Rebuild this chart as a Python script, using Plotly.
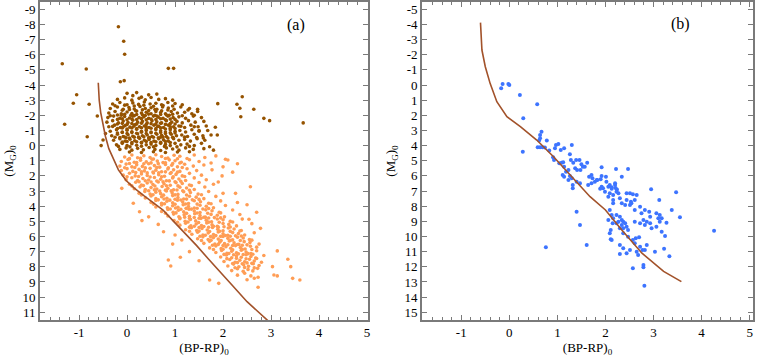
import plotly.graph_objects as go

# ---------------- data: panel (a) ----------------
# bright (giant) members, (BP-RP)_0 , M_G,0
brown_points = [
    (0.0,-3.45),(0.12,-3.3),(0.2,-3.5),(0.45,-3.35),(0.62,-3.4),(0.3,-3.2),
    (-0.2,-3.05),(-0.05,-3.15),(0.1,-3.0),(0.25,-3.12),(0.38,-3.02),(0.5,-3.18),(0.66,-3.05),(0.8,-3.1),(0.95,-3.0),
    (-0.3,-2.75),(-0.15,-2.85),(0.0,-2.7),(0.12,-2.82),(0.24,-2.72),(0.36,-2.88),(0.48,-2.75),(0.6,-2.8),(0.72,-2.7),(0.85,-2.85),(1.0,-2.78),(1.15,-2.7),
    (-0.35,-2.45),(-0.2,-2.55),(-0.08,-2.4),(0.04,-2.52),(0.15,-2.42),(0.27,-2.58),(0.38,-2.45),(0.5,-2.5),(0.62,-2.4),(0.74,-2.55),(0.86,-2.48),(0.98,-2.4),(1.12,-2.55),(1.3,-2.45),
    (-0.38,-2.15),(-0.25,-2.25),(-0.12,-2.1),(0.0,-2.22),(0.1,-2.12),(0.2,-2.28),(0.3,-2.15),(0.4,-2.2),(0.5,-2.1),(0.6,-2.25),(0.7,-2.18),(0.8,-2.1),(0.92,-2.25),(1.05,-2.15),(1.2,-2.2),(1.35,-2.1),(1.47,-2.25),
    (-0.4,-1.85),(-0.28,-1.95),(-0.15,-1.8),(-0.05,-1.92),(0.05,-1.82),(0.15,-1.98),(0.25,-1.85),(0.35,-1.9),(0.45,-1.8),(0.55,-1.95),(0.65,-1.88),(0.75,-1.8),(0.85,-1.95),(0.96,-1.85),(1.08,-1.9),(1.22,-1.8),(1.38,-1.95),(1.55,-1.85),
    (-0.42,-1.55),(-0.3,-1.65),(-0.18,-1.5),(-0.08,-1.62),(0.02,-1.52),(0.12,-1.68),(0.22,-1.55),(0.32,-1.6),(0.42,-1.5),(0.52,-1.65),(0.62,-1.58),(0.72,-1.5),(0.82,-1.65),(0.93,-1.55),(1.04,-1.6),(1.15,-1.5),(1.28,-1.65),(1.42,-1.55),(1.6,-1.6),
    (-0.38,-1.25),(-0.26,-1.35),(-0.14,-1.2),(-0.04,-1.32),(0.06,-1.22),(0.16,-1.38),(0.26,-1.25),(0.36,-1.3),(0.46,-1.2),(0.56,-1.35),(0.66,-1.28),(0.76,-1.2),(0.86,-1.35),(0.97,-1.25),(1.08,-1.3),(1.2,-1.2),(1.33,-1.35),(1.48,-1.25),(1.65,-1.3),
    (-0.35,-0.95),(-0.22,-1.05),(-0.1,-0.9),(0.0,-1.02),(0.1,-0.92),(0.2,-1.08),(0.3,-0.95),(0.4,-1.0),(0.5,-0.9),(0.6,-1.05),(0.7,-0.98),(0.8,-0.9),(0.9,-1.05),(1.0,-0.95),(1.1,-1.0),(1.22,-0.9),(1.35,-1.05),(1.5,-0.95),(1.68,-1.0),
    (-0.32,-0.65),(-0.2,-0.75),(-0.08,-0.6),(0.02,-0.72),(0.12,-0.62),(0.22,-0.78),(0.32,-0.65),(0.42,-0.7),(0.52,-0.6),(0.62,-0.75),(0.72,-0.68),(0.82,-0.6),(0.92,-0.75),(1.03,-0.65),(1.14,-0.7),(1.26,-0.6),(1.4,-0.75),(1.58,-0.65),(1.75,-0.7),
    (-0.28,-0.35),(-0.15,-0.45),(-0.04,-0.3),(0.06,-0.42),(0.16,-0.32),(0.26,-0.48),(0.36,-0.35),(0.46,-0.4),(0.56,-0.3),(0.66,-0.45),(0.76,-0.38),(0.86,-0.3),(0.97,-0.45),(1.08,-0.35),(1.2,-0.4),(1.32,-0.3),(1.46,-0.45),(1.62,-0.35),(1.59,-0.5),
    (-0.22,-0.05),(-0.1,-0.15),(0.0,0.0),(0.1,-0.12),(0.2,-0.02),(0.3,-0.18),(0.4,-0.05),(0.5,-0.1),(0.6,0.0),(0.7,-0.15),(0.8,-0.08),(0.9,0.0),(1.0,-0.15),(1.12,-0.05),(1.25,-0.1),(1.4,0.0),(1.55,-0.15),(1.72,0.07),
    (-0.15,0.25),(-0.02,0.15),(0.1,0.3),(0.22,0.18),(0.34,0.28),(0.46,0.12),(0.58,0.25),(0.7,0.32),(0.82,0.15),(0.95,0.22),(1.08,0.3),(1.22,0.15),(1.38,0.25),(1.6,0.2),(1.8,0.3),
    (0.05,0.42),(0.3,0.45),(0.55,0.4),(0.8,0.45),(1.05,0.42),(1.3,0.4),
    (-0.1,-2.33),(0.05,-2.38),(0.18,-2.3),(0.32,-2.36),(0.45,-2.32),(0.58,-2.38),(0.72,-2.3),(0.85,-2.35),
    (-0.2,-2.02),(-0.05,-2.07),(0.08,-2.0),(0.2,-2.05),(0.32,-2.03),(0.45,-2.08),(0.58,-2.0),(0.7,-2.05),(0.82,-2.02),(0.95,-2.07),
    (-0.2,-1.73),(-0.1,-1.77),(0.0,-1.7),(0.1,-1.76),(0.2,-1.72),(0.3,-1.78),(0.4,-1.7),(0.5,-1.75),(0.6,-1.72),(0.7,-1.77),(0.8,-1.7),(0.9,-1.75),(1.0,-1.73),
    (-0.2,-1.43),(-0.1,-1.47),(0.0,-1.4),(0.1,-1.46),(0.2,-1.42),(0.3,-1.48),(0.4,-1.4),(0.5,-1.45),(0.6,-1.42),(0.7,-1.47),(0.8,-1.4),(0.9,-1.45),(1.0,-1.43),
    (-0.2,-1.13),(-0.1,-1.17),(0.0,-1.1),(0.1,-1.16),(0.2,-1.12),(0.3,-1.18),(0.4,-1.1),(0.5,-1.15),(0.6,-1.12),(0.7,-1.17),(0.8,-1.1),(0.9,-1.15),(1.0,-1.13),
    (-0.2,-0.83),(-0.1,-0.87),(0.0,-0.8),(0.1,-0.86),(0.2,-0.82),(0.3,-0.88),(0.4,-0.8),(0.5,-0.85),(0.6,-0.82),(0.7,-0.87),(0.8,-0.8),(0.9,-0.85),(1.0,-0.83),
    (-0.15,-0.53),(-0.05,-0.57),(0.05,-0.5),(0.15,-0.56),(0.25,-0.52),(0.35,-0.58),(0.45,-0.5),(0.55,-0.55),(0.65,-0.52),(0.75,-0.57),(0.85,-0.5),(0.95,-0.55),
    (-0.1,-0.23),(0.0,-0.27),(0.1,-0.2),(0.2,-0.26),(0.3,-0.22),(0.4,-0.28),(0.5,-0.2),(0.6,-0.25),(0.7,-0.22),(0.8,-0.27),(0.9,-0.2),
    (-0.25,-2.63),(-0.05,-2.67),(0.15,-2.62),(0.35,-2.66),(0.55,-2.6),(0.75,-2.65),(0.95,-2.62),
    (-0.35,-1.97),(-0.12,-2.0),(0.12,-1.95),(0.38,-1.99),(0.62,-1.96),(0.88,-2.0),(1.15,-1.97),(1.4,-2.0),
    (-0.3,-1.27),(-0.08,-1.24),(0.14,-1.28),(0.4,-1.23),(0.64,-1.27),(0.9,-1.24),(1.12,-1.28),(1.4,-1.25),
    (-0.25,-0.55),(-0.02,-0.52),(0.24,-0.56),(0.47,-0.53),(0.7,-0.55),(0.96,-0.52),(1.2,-0.56),(1.45,-0.54),
    (-0.18,0.05),(0.06,0.08),(0.3,0.04),(0.55,0.07),(0.78,0.05),(1.04,0.08),(1.3,0.05),
    (-1.35,-5.4),(-0.85,-5.06),(-0.18,-7.85),(-0.07,-6.89),(-0.05,-6.03),(-1.05,-3.36),(-1.12,-2.8),(-0.79,-2.73),
    (-1.3,-1.41),(-0.83,-0.59),(-0.62,-1.96),(-0.14,-4.22),(-0.06,-4.29),(0.86,-5.1),(0.97,-5.1),(2.4,-3.23),
    (1.89,-2.77),(2.29,-2.73),(2.35,-2.47),(2.64,-2.4),(2.37,-1.91),(2.85,-1.8),(2.97,-1.65),(3.67,-1.5),
    (1.27,-2.35),(1.47,-2.4),(1.84,-1.21),(1.88,-0.7),(1.5,-1.0),(-0.54,0.0),(-0.5,-0.37),(-0.45,-0.8),
]

# main-sequence members, (BP-RP)_0 , M_G,0
orange_points = [
    (-0.05,0.75),(0.1,0.62),(0.22,0.8),(0.35,0.67),(0.48,0.78),(0.6,0.6),(0.72,0.72),(0.85,0.82),(0.98,0.64),(1.1,0.7),(1.25,0.85),(1.4,0.62),(1.62,0.78),(1.85,0.68),(2.05,0.9),
    (-0.12,1.05),(0.02,0.92),(0.15,1.1),(0.28,0.97),(0.4,1.07),(0.52,0.9),(0.63,1.02),(0.75,1.12),(0.88,0.94),(1.0,1.0),(1.13,1.1),(1.3,0.93),(1.5,1.05),(1.75,1.15),(2.3,1.2),(2.1,0.95),
    (-0.15,1.35),(-0.02,1.22),(0.1,1.4),(0.2,1.27),(0.32,1.37),(0.45,1.2),(0.57,1.32),(0.68,1.42),(0.8,1.24),(0.93,1.3),(1.05,1.4),(1.2,1.23),(1.38,1.35),(1.6,1.28),(2.0,1.4),(1.77,1.6),
    (-0.12,1.65),(0.0,1.52),(0.12,1.7),(0.25,1.57),(0.36,1.67),(0.48,1.5),(0.6,1.62),(0.72,1.72),(0.85,1.54),(0.97,1.6),(1.1,1.7),(1.25,1.53),(1.45,1.65),(2.2,1.75),
    (-0.08,1.95),(0.05,1.82),(0.17,2.0),(0.3,1.87),(0.42,1.97),(0.55,1.8),(0.66,1.92),(0.78,2.02),(0.9,1.84),(1.02,1.9),(1.15,2.0),(1.3,1.83),(1.55,1.95),(1.98,2.0),
    (-0.02,2.25),(0.1,2.12),(0.22,2.3),(0.33,2.17),(0.45,2.27),(0.57,2.1),(0.7,2.22),(0.82,2.32),(0.95,2.14),(1.08,2.2),(1.22,2.3),(1.4,2.13),(1.65,2.25),(1.9,2.4),
    (0.05,2.55),(0.18,2.42),(0.3,2.6),(0.42,2.47),(0.54,2.57),(0.65,2.4),(0.77,2.52),(0.9,2.62),(1.02,2.44),(1.15,2.5),(1.3,2.6),(1.5,2.43),(1.8,2.55),
    (0.15,2.85),(0.27,2.72),(0.38,2.9),(0.5,2.77),(0.62,2.87),(0.73,2.7),(0.85,2.82),(0.97,2.92),(1.1,2.74),(1.24,2.8),(1.4,2.9),(1.62,2.73),(2.57,2.71),(-0.11,2.82),
    (0.25,3.15),(0.37,3.02),(0.48,3.2),(0.6,3.07),(0.7,3.17),(0.82,3.0),(0.94,3.12),(1.06,3.22),(1.18,3.04),(1.32,3.1),(1.48,3.2),(1.7,3.03),(2.0,3.15),(2.26,3.15),
    (0.38,3.45),(0.5,3.32),(0.6,3.5),(0.72,3.37),(0.83,3.47),(0.95,3.3),(1.06,3.42),(1.18,3.52),(1.3,3.34),(1.44,3.4),(1.6,3.5),(1.85,3.35),
    (0.5,3.75),(0.6,3.62),(0.72,3.8),(0.83,3.67),(0.95,3.77),(1.05,3.6),(1.16,3.72),(1.28,3.82),(1.4,3.64),(1.53,3.7),(1.7,3.8),(1.95,3.65),(2.3,3.75),(0.13,3.8),(2.5,3.9),
    (0.6,4.05),(0.72,3.92),(0.84,4.1),(0.95,3.97),(1.06,4.07),(1.17,3.9),(1.28,4.02),(1.4,4.12),(1.52,3.94),(1.65,4.0),(1.8,4.1),(2.05,3.95),
    (0.72,4.35),(0.85,4.22),(0.96,4.4),(1.07,4.27),(1.18,4.37),(1.29,4.2),(1.4,4.32),(1.52,4.42),(1.64,4.24),(1.77,4.3),(1.92,4.4),(2.2,4.25),(0.26,4.36),(2.7,4.4),
    (0.85,4.65),(0.97,4.52),(1.08,4.7),(1.19,4.57),(1.3,4.67),(1.41,4.5),(1.52,4.62),(1.63,4.72),(1.75,4.54),(1.88,4.6),(2.03,4.7),(2.35,4.55),(2.54,4.86),(0.45,4.7),
    (0.98,4.95),(1.1,4.82),(1.21,5.0),(1.32,4.87),(1.43,4.97),(1.54,4.8),(1.65,4.92),(1.76,5.02),(1.88,4.84),(2.0,4.9),(2.15,5.0),(2.4,4.85),(0.31,4.95),
    (1.1,5.25),(1.22,5.12),(1.33,5.3),(1.44,5.17),(1.55,5.27),(1.66,5.1),(1.77,5.22),(1.88,5.32),(2.0,5.14),(2.12,5.2),(2.28,5.3),(2.6,5.15),(0.65,5.2),
    (1.22,5.55),(1.34,5.42),(1.45,5.6),(1.56,5.47),(1.67,5.57),(1.78,5.4),(1.89,5.52),(2.0,5.62),(2.11,5.44),(2.23,5.5),(2.38,5.6),(2.78,5.46),(0.76,5.68),
    (1.35,5.85),(1.47,5.72),(1.58,5.9),(1.69,5.77),(1.8,5.87),(1.9,5.7),(2.0,5.82),(2.1,5.92),(2.2,5.74),(2.32,5.8),(2.45,5.9),(2.65,5.75),(1.0,5.9),
    (1.47,6.15),(1.58,6.02),(1.69,6.2),(1.8,6.07),(1.9,6.17),(2.0,6.0),(2.1,6.12),(2.2,6.22),(2.3,6.04),(2.42,6.1),(2.55,6.2),(1.14,6.23),
    (1.6,6.45),(1.72,6.32),(1.83,6.5),(1.93,6.37),(2.03,6.47),(2.13,6.3),(2.23,6.42),(2.33,6.52),(2.44,6.34),(2.56,6.4),(2.75,6.5),(0.95,6.5),
    (1.72,6.75),(1.85,6.62),(1.96,6.8),(2.06,6.67),(2.16,6.77),(2.26,6.6),(2.36,6.72),(2.46,6.82),(2.57,6.64),(2.7,6.7),
    (1.85,7.05),(1.97,6.92),(2.08,7.1),(2.18,6.97),(2.28,7.07),(2.38,6.9),(2.48,7.02),(2.58,7.12),(2.7,6.94),(3.13,6.95),(1.3,7.0),
    (1.95,7.35),(2.07,7.22),(2.18,7.4),(2.28,7.27),(2.38,7.37),(2.48,7.2),(2.58,7.32),(2.68,7.42),(2.85,7.25),(1.11,7.37),
    (2.02,7.65),(2.14,7.52),(2.25,7.7),(2.35,7.57),(2.45,7.67),(2.55,7.5),(2.65,7.62),(2.8,7.7),(3.35,7.5),(0.86,7.55),(1.5,7.6),
    (2.1,7.95),(2.22,7.82),(2.33,8.0),(2.43,7.87),(2.53,7.97),(2.63,7.8),(2.75,7.92),(3.03,7.99),(3.41,7.99),(0.91,7.95),
    (2.18,8.25),(2.3,8.12),(2.42,8.3),(2.52,8.17),(2.62,8.27),(2.72,8.1),
    (2.3,8.55),(2.45,8.42),(2.58,8.6),(3.06,8.54),(3.13,8.6),(2.73,8.69),(3.45,8.76),(3.6,8.87),
    (2.5,8.85),(2.65,8.75),(2.73,9.35),(1.72,8.87),(1.91,9.09),
    (0.05,1.18),(0.2,1.12),(0.35,1.2),(0.5,1.14),(0.65,1.19),(0.8,1.13),(0.95,1.18),(1.1,1.15),
    (0.18,1.78),(0.3,1.72),(0.42,1.8),(0.54,1.74),(0.66,1.79),(0.8,1.73),(0.92,1.78),(1.05,1.75),
    (0.25,2.38),(0.38,2.32),(0.5,2.4),(0.62,2.34),(0.75,2.39),(0.88,2.33),(1.0,2.38),(1.12,2.35),
    (0.45,2.98),(0.57,2.92),(0.68,3.0),(0.8,2.94),(0.92,2.99),(1.04,2.93),(1.16,2.98),(1.3,2.95),
    (0.65,3.58),(0.77,3.52),(0.89,3.6),(1.0,3.54),(1.12,3.59),(1.24,3.53),(1.36,3.58),(1.5,3.55),
    (0.9,4.18),(1.01,4.12),(1.12,4.2),(1.23,4.14),(1.34,4.19),(1.46,4.13),(1.58,4.18),(1.7,4.15),
    (1.1,4.78),(1.2,4.72),(1.3,4.8),(1.4,4.74),(1.5,4.79),(1.6,4.73),(1.7,4.78),(1.82,4.75),(1.95,4.77),
    (1.3,5.38),(1.4,5.32),(1.5,5.4),(1.6,5.34),(1.7,5.39),(1.8,5.33),(1.9,5.38),(2.02,5.35),(2.15,5.37),
    (1.52,5.98),(1.63,5.92),(1.74,6.0),(1.85,5.94),(1.95,5.99),(2.05,5.93),(2.15,5.98),(2.26,5.95),(2.38,5.97),
    (1.78,6.58),(1.9,6.52),(2.0,6.6),(2.1,6.54),(2.2,6.59),(2.3,6.53),(2.4,6.58),(2.5,6.55),
    (2.02,7.18),(2.12,7.12),(2.22,7.2),(2.32,7.14),(2.42,7.19),(2.52,7.13),(2.62,7.17),
    (2.2,7.78),(2.3,7.72),(2.4,7.8),(2.5,7.74),(2.6,7.77),
    (0.05,0.86),(0.28,0.84),(0.55,0.88),(0.8,0.85),(1.05,0.87),
    (-0.05,1.46),(0.16,1.44),(0.38,1.47),(0.62,1.45),(0.86,1.46),(1.15,1.44),
    (0.0,2.06),(0.24,2.04),(0.48,2.07),(0.72,2.05),(0.96,2.06),(1.2,2.04),
    (0.1,2.66),(0.34,2.64),(0.58,2.67),(0.82,2.65),(1.06,2.66),(1.34,2.64),
    (0.3,3.26),(0.54,3.24),(0.76,3.27),(1.0,3.25),(1.24,3.26),(1.55,3.24),
    (0.55,3.86),(0.78,3.84),(1.0,3.87),(1.22,3.85),(1.46,3.86),(1.75,3.84),
    (0.8,4.46),(1.02,4.44),(1.24,4.47),(1.46,4.45),(1.68,4.46),(1.95,4.44),
    (1.05,5.06),(1.27,5.04),(1.49,5.07),(1.7,5.05),(1.92,5.06),(2.2,5.04),
    (1.3,5.66),(1.5,5.64),(1.72,5.67),(1.93,5.65),(2.15,5.66),(2.35,5.64),
    (1.55,6.26),(1.75,6.24),(1.96,6.27),(2.16,6.25),(2.36,6.26),(2.6,6.24),
    (1.8,6.86),(2.0,6.84),(2.2,6.87),(2.4,6.85),(2.6,6.86),
    (2.08,7.46),(2.28,7.44),(2.48,7.47),(2.7,7.45),
    (2.25,8.06),(2.45,8.04),(2.65,8.07),
]

# isochrone drawn in panel (a)
iso_a_bp_rp = [-0.60, -0.58, -0.55, -0.50, -0.45, -0.38, -0.30, -0.18, -0.02, 0.15, 0.35, 0.55, 0.75, 0.97, 1.20, 1.45, 1.70, 1.95, 2.20, 2.50, 2.75, 2.95]
iso_a_mg = [-4.15, -3.0, -2.2, -1.3, -0.6, 0.2, 0.8, 1.6, 2.3, 2.8, 3.3, 3.75, 4.25, 5.0, 5.75, 6.6, 7.5, 8.35, 9.25, 10.3, 11.0, 11.6]

# ---------------- data: panel (b) ----------------
blue_points = [
    (-0.17,0.21),(-0.14,-0.07),(-0.02,-0.07),(0.0,0.0),(0.22,0.66),(0.58,1.27),(0.29,2.2),(0.28,4.4),
    (0.67,3.08),(0.64,3.3),(0.64,3.52),(0.62,3.67),(0.78,3.67),(0.59,4.1),(0.64,4.1),(0.69,4.1),(0.74,4.12),
    (0.83,4.33),(0.95,4.18),(0.97,3.96),(1.02,3.89),(1.07,4.29),(1.14,4.18),(1.3,3.96),(1.26,4.57),(0.91,4.77),
    (0.93,4.95),(1.04,5.17),(1.09,5.13),(1.12,5.1),(1.28,4.95),(1.33,5.13),(1.39,4.95),(1.46,4.95),(1.5,5.23),
    (1.57,5.39),(1.62,5.13),(1.14,5.39),(1.18,5.72),(1.23,5.61),(1.37,5.5),(1.41,5.61),(1.48,5.61),(1.53,5.39),
    (1.11,5.94),(1.14,6.05),(1.23,6.27),(1.26,6.0),(1.3,6.16),(1.4,6.38),(1.47,6.49),(1.32,6.6),(1.32,6.82),
    (1.66,6.05),(1.71,5.94),(1.73,6.16),(1.83,6.27),(1.92,5.43),(1.92,6.0),(1.9,6.22),(2.01,6.05),(2.22,5.54),
    (2.47,5.54),(2.34,6.05),(1.92,6.71),(1.95,6.82),(2.06,6.71),(2.13,6.75),(2.2,6.6),(1.64,6.6),(1.71,6.49),
    (2.21,6.8),(2.24,6.9),(1.78,6.38),(1.82,6.27),(2.02,6.38),(2.09,6.6),(2.2,6.49),(2.13,6.85),(2.23,7.04),
    (1.89,6.85),(1.99,7.04),(2.09,7.15),(2.06,7.37),(2.16,7.26),(2.27,7.15),(2.16,7.59),(2.3,7.48),(2.34,7.81),
    (2.16,7.81),(2.44,7.15),(2.51,7.15),(2.57,7.21),(2.65,7.26),(2.44,7.59),(2.53,7.7),(2.61,7.59),(2.95,6.88),
    (3.47,7.08),(3.12,7.59),(2.41,7.92),(2.51,7.92),(2.54,7.81),(2.61,8.25),(2.72,8.03),(2.75,8.47),(2.82,8.25),
    (2.91,8.36),(2.93,8.69),(3.06,8.47),(3.13,8.58),(3.1,8.8),(3.17,8.8),(3.38,8.25),(3.55,8.73),(3.27,9.09),
    (4.26,9.62),(2.23,8.58),(2.3,8.69),(2.34,8.91),(2.37,9.02),(2.41,9.13),(2.34,9.24),(2.44,9.35),(2.37,9.46),
    (2.47,9.57),(2.3,9.46),(2.23,9.13),(2.27,9.02),(2.09,8.25),(2.13,8.58),(2.16,8.8),(2.06,8.91),(2.15,9.13),
    (2.11,9.57),(2.11,10.18),(2.61,9.02),(2.72,9.13),(2.79,8.91),(2.82,9.24),(2.86,9.02),(2.93,9.13),(2.96,9.46),
    (3.06,9.35),(3.13,9.02),(3.17,9.68),(3.24,9.96),(2.37,9.79),(2.47,10.01),(2.57,10.23),(2.63,10.12),(2.7,10.05),
    (2.61,10.45),(2.72,10.67),(2.77,10.89),(2.3,10.56),(2.37,10.78),(2.51,10.89),(2.44,11.11),(2.3,11.15),(2.65,11.0),
    (2.68,11.22),(2.82,10.89),(2.86,10.56),(3.03,11.0),(3.22,10.8),(3.33,11.3),(2.57,12.1),(2.79,11.88),(2.79,12.03),
    (2.81,13.25),(2.09,9.79),(2.13,10.23),(1.61,10.56),(1.47,9.24),(1.4,8.36),(0.76,10.71),
]

iso_b_bp_rp = [-0.60, -0.57, -0.50, -0.40, -0.26, -0.05, 0.23, 0.57, 0.92, 1.30, 1.68, 2.00, 2.34, 2.76, 3.21, 3.58]
iso_b_mg = [-4.12, -2.31, -1.21, -0.11, 1.10, 2.09, 2.75, 3.63, 4.73, 6.05, 7.37, 8.25, 9.57, 11.10, 12.30, 12.98]

x_ticks = [-1, 0, 1, 2, 3, 4, 5]
y_ticks_a = list(range(-9, 12))
y_ticks_b = list(range(-5, 16))

# ---------------- styling ----------------
FONT = "Liberation Serif"
AXIS_GREY = "#7a7a7a"
C_BROWN = "#955300"
C_ORANGE = "#FF9D55"
C_BLUE = "#3D74FF"
C_ISO = "#A2522A"

fig = go.Figure()

def xy(points):
    return [p[0] for p in points], [p[1] for p in points]

px_, py_ = xy(orange_points)
fig.add_trace(go.Scatter(x=px_, y=py_, mode="markers", xaxis="x", yaxis="y",
                         marker=dict(color=C_ORANGE, size=3.6, line=dict(width=0))))
px_, py_ = xy(brown_points)
fig.add_trace(go.Scatter(x=px_, y=py_, mode="markers", xaxis="x", yaxis="y",
                         marker=dict(color=C_BROWN, size=3.6, line=dict(width=0))))
fig.add_trace(go.Scatter(x=iso_a_bp_rp, y=iso_a_mg, mode="lines", xaxis="x", yaxis="y",
                         line=dict(color=C_ISO, width=1.6)))
px_, py_ = xy(blue_points)
fig.add_trace(go.Scatter(x=px_, y=py_, mode="markers", xaxis="x2", yaxis="y2",
                         marker=dict(color=C_BLUE, size=4, line=dict(width=0))))
fig.add_trace(go.Scatter(x=iso_b_bp_rp, y=iso_b_mg, mode="lines", xaxis="x2", yaxis="y2",
                         line=dict(color=C_ISO, width=1.6)))

W, H = 763, 359
y_dom = [1 - 320 / H, 1 - 2 / H]

def xaxis(domain, rng, anchor):
    return dict(domain=domain, range=rng, anchor=anchor, showgrid=False, zeroline=False,
                showline=True, linecolor=AXIS_GREY, linewidth=1.6, mirror="allticks",
                ticks="inside", ticklen=5, tickwidth=1.2, tickcolor=AXIS_GREY,
                tickvals=x_ticks, ticktext=[str(v) for v in x_ticks],
                minor=dict(tick0=0, dtick=0.2, ticks="inside", ticklen=3, tickcolor=AXIS_GREY, tickwidth=1),
                tickfont=dict(family=FONT, size=13, color="black"),
                title=dict(text="(BP-RP)<sub>0</sub>", font=dict(family=FONT, size=13, color="black"), standoff=2),
                automargin=False)

def yaxis(rng, ticks, anchor):
    return dict(domain=y_dom, range=rng, anchor=anchor, showgrid=False, zeroline=False,
                showline=True, linecolor=AXIS_GREY, linewidth=1.6, mirror="allticks",
                ticks="inside", ticklen=5, tickwidth=1.2, tickcolor=AXIS_GREY,
                tickvals=ticks, ticktext=[str(v) for v in ticks],
                tickfont=dict(family=FONT, size=13, color="black"),
                title=dict(text="(M<sub>G</sub>)<sub>0</sub>", font=dict(family=FONT, size=13, color="black"), standoff=6),
                automargin=False)

fig.update_layout(
    width=W, height=H, showlegend=False,
    paper_bgcolor="white", plot_bgcolor="white",
    margin=dict(l=0, r=0, t=0, b=0),
    xaxis=xaxis([40 / W, 368 / W], [-1.814, 5.02], "y"),
    yaxis=yaxis([11.51, -9.48], y_ticks_a, "x"),
    xaxis2=xaxis([422 / W, 753 / W], [-1.817, 5.07], "y2"),
    yaxis2=yaxis([15.51, -5.48], y_ticks_b, "x2"),
    annotations=[
        dict(text="(a)", x=296 / W, y=1 - 25 / H, xref="paper", yref="paper", showarrow=False,
             font=dict(family=FONT, size=16, color="black"), xanchor="center", yanchor="middle"),
        dict(text="(b)", x=680 / W, y=1 - 24 / H, xref="paper", yref="paper", showarrow=False,
             font=dict(family=FONT, size=16, color="black"), xanchor="center", yanchor="middle"),
    ],
)

# remove the browser's default 8px body margin so the figure sits at the page origin
fig.write_html("out.html", config={"displayModeBar": False},
               post_script="document.body.style.margin='0';document.body.style.overflow='hidden';")
